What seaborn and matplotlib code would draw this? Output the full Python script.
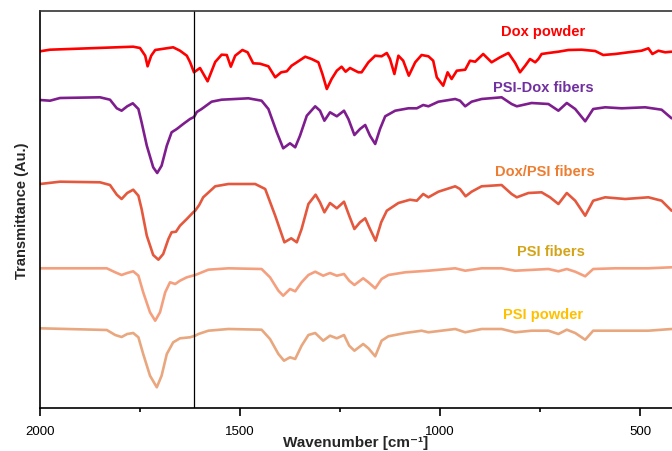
import numpy as np
import pandas as pd
import matplotlib
matplotlib.use("Agg")
import matplotlib.pyplot as plt
import seaborn as sns
from matplotlib.ticker import MultipleLocator

sns.set_theme(style="white")
plt.rcParams['font.family'] = ['Liberation Sans', 'DejaVu Sans']

# ---- data (wavenumber in cm-1, transmittance in arbitrary offset units) ----
dox_powder_wn = [2000, 1975, 1767, 1750, 1737, 1731, 1722, 1712, 1667, 1650, 1633, 1625, 1615, 1600,
                 1581, 1562, 1546, 1533, 1523, 1512, 1494, 1481, 1467, 1450, 1429, 1412, 1397, 1383,
                 1371, 1358, 1337, 1321, 1304, 1294, 1283, 1271, 1258, 1246, 1236, 1225, 1212, 1204,
                 1196, 1179, 1162, 1146, 1133, 1125, 1114, 1104, 1092, 1078, 1062, 1046, 1029, 1017,
                 1008, 992, 981, 971, 958, 937, 925, 912, 892, 871, 850, 829, 812, 800, 787, 775, 762,
                 754, 746, 729, 704, 679, 646, 612, 592, 562, 529, 496, 479, 469, 454, 437, 421]
dox_powder_t = [356.7, 358.3, 361.3, 360, 352.3, 341.7, 352.3, 358, 360.7, 357.3, 352.3, 346, 335.7, 340,
                326.7, 346, 353.3, 353, 341.3, 352.3, 358, 355.7, 344.7, 344.3, 341.7, 330.7, 335.7, 336.7,
                342.3, 345.7, 351.3, 349, 345.7, 334, 319, 329, 337.3, 341.3, 336.3, 340, 337.3, 335.7,
                335.7, 345.7, 352.3, 351.7, 355, 349, 334, 352.3, 347.3, 332.3, 345.7, 353, 351.7, 347.3,
                330.7, 322.3, 335.7, 329, 337.3, 338.3, 347.3, 346.3, 354, 345.7, 350.7, 355, 345, 335.7,
                342.3, 349, 345.7, 349, 354, 355, 356.3, 358, 358.3, 357, 353, 354, 355.7, 357.3, 359.7,
                354, 357.3, 355.7, 356.3]

psi_dox_wn = [2000, 1975, 1950, 1850, 1825, 1808, 1796, 1782, 1768, 1754, 1746, 1733, 1717, 1707, 1696,
              1683, 1671, 1658, 1642, 1625, 1615, 1608, 1596, 1571, 1546, 1479, 1446, 1429, 1408, 1392,
              1375, 1362, 1350, 1333, 1312, 1300, 1289, 1275, 1258, 1240, 1229, 1214, 1200, 1187, 1175,
              1162, 1150, 1137, 1112, 1079, 1058, 1042, 1029, 1004, 962, 950, 937, 921, 896, 846, 821,
              808, 771, 729, 704, 683, 662, 637, 617, 587, 546, 487, 446, 421]
psi_dox_t = [308, 307.3, 310, 310.7, 308.3, 299.7, 297.3, 301.7, 304.7, 299, 285.7, 262.3, 240.7, 235, 242.3,
             262.3, 275.7, 279, 284, 289, 291, 296, 299, 306.3, 308.3, 309.7, 307.3, 299, 275.7, 259.7,
             264.7, 260.7, 272.3, 292.3, 301.7, 297.3, 287.3, 295.7, 291.7, 297.3, 289, 273, 279, 283, 272.3,
             264, 279, 291.7, 297.3, 299.7, 299.7, 303, 301.7, 306.3, 309, 307.3, 301.7, 306.3, 309, 310.7, 304,
             301.7, 305, 304, 297.3, 305, 299, 286.7, 299, 300.7, 299.7, 300.7, 298.3, 289.7]

dox_psi_wn = [2000, 1950, 1850, 1825, 1808, 1796, 1782, 1767, 1754, 1746, 1733, 1717, 1704, 1692, 1679,
              1671, 1660, 1650, 1633, 1617, 1612, 1602, 1592, 1562, 1529, 1462, 1437, 1412, 1389, 1372,
              1358, 1346, 1329, 1311, 1300, 1289, 1275, 1258, 1240, 1227, 1214, 1200, 1187, 1175, 1161,
              1147, 1133, 1104, 1075, 1058, 1042, 1029, 1004, 962, 950, 936, 921, 896, 846, 821, 808,
              779, 746, 725, 704, 683, 662, 637, 617, 587, 537, 479, 446, 421]
dox_psi_t = [224, 226.3, 225.7, 223, 213.3, 209, 215, 218.3, 212.3, 199, 172.3, 153, 148.3, 154, 169,
             175.7, 176.3, 182.3, 189, 195.7, 197.3, 203, 210.7, 221.7, 224, 224, 219, 192.3, 165.7, 169.7,
             165.7, 179, 204, 213.3, 205.7, 195.7, 205, 199.7, 206.3, 192.3, 179, 185.7, 189.7, 179, 167.3,
             185.7, 197.3, 205, 208.3, 207.3, 214, 210.7, 216.3, 221.7, 219, 211.7, 216.3, 221.7, 223, 214,
             210.7, 215, 215.7, 210.7, 204, 215, 207.3, 192.3, 207.3, 210.7, 209, 210.7, 207.3, 197.3]

psi_fibers_wn = [2000, 1833, 1812, 1796, 1782, 1767, 1754, 1742, 1725, 1712, 1700, 1687, 1675, 1662, 1650,
                 1633, 1612, 1579, 1529, 1446, 1425, 1404, 1392, 1375, 1362, 1346, 1329, 1312, 1292, 1275,
                 1258, 1240, 1227, 1214, 1192, 1179, 1162, 1146, 1129, 1087, 1029, 962, 937, 896, 846, 812,
                 729, 704, 683, 662, 637, 617, 562, 479, 421]
psi_fibers_t = [139.7, 139.7, 135.7, 133, 135, 136.7, 132.3, 115.7, 95.7, 87.3, 95.7, 115.7, 125.7, 124, 127.3,
                130.7, 133, 138.3, 139.7, 139, 130.7, 117.3, 112.3, 119, 116.7, 125.7, 133, 136.3, 132.3, 135,
                132.3, 134, 127.3, 123, 129.7, 125.7, 119.7, 129, 133, 135.7, 137.3, 139.7, 137.3, 139.7, 139.7,
                137.3, 139, 136.7, 139, 136.3, 131.7, 139, 139.7, 139.7, 140.7]

psi_powder_wn = [2000, 1833, 1812, 1796, 1782, 1767, 1754, 1742, 1725, 1708, 1696, 1683, 1667, 1650, 1625,
                 1612, 1604, 1579, 1529, 1446, 1425, 1404, 1390, 1375, 1362, 1346, 1329, 1312, 1292, 1275,
                 1258, 1240, 1227, 1214, 1192, 1179, 1162, 1146, 1129, 1087, 1046, 1029, 962, 937, 896, 846,
                 812, 771, 729, 704, 683, 662, 637, 617, 562, 479, 421]
psi_powder_t = [79.7, 78, 73, 71, 74, 75, 70.7, 54, 32.3, 20.7, 32.3, 54, 65.7, 69.7, 70.7,
                72.3, 74, 77.3, 79, 78.3, 69, 54, 47.3, 50.7, 49, 62.3, 73, 75, 67.3, 72.3,
                69.7, 73, 62.3, 57.3, 64, 59.7, 51.7, 67.3, 71.7, 75, 77.3, 75.7, 79, 75.7, 79, 79,
                75.7, 77.3, 77.3, 74, 78.3, 75, 68.3, 77.3, 77.3, 77.3, 79]

series_names = ["Dox powder", "PSI-Dox fibers", "Dox/PSI fibers", "PSI fibers", "PSI powder"]
marker_wavenumber = 1615
x_ticks = [2000, 1500, 1000, 500]

# ---- styles ----
line_colors = ["#FF0000", "#7E1E8E", "#E4583E", "#F4A07E", "#E8A77F"]
label_colors = ["#FF0000", "#7030A0", "#ED7D31", "#D4A418", "#FFC000"]
label_pos = [(742, 377), (742, 321), (737, 237), (722, 157), (742, 94)]

fig = plt.figure(figsize=(6.72, 4.52), dpi=100)
ax = fig.add_axes([40 / 672, 1 - 409 / 452, 1 - 40 / 672, (409 - 12) / 452])

all_wn = [dox_powder_wn, psi_dox_wn, dox_psi_wn, psi_fibers_wn, psi_powder_wn]
all_t = [dox_powder_t, psi_dox_t, dox_psi_t, psi_fibers_t, psi_powder_t]
for name, wn, t, c in zip(series_names, all_wn, all_t, line_colors):
    df = pd.DataFrame({"Wavenumber": wn, "T": t})
    sns.lineplot(data=df, x="Wavenumber", y="T", color=c, linewidth=1.9, ax=ax,
                 sort=False, estimator=None, solid_joinstyle="round", solid_capstyle="round")

for name, (x, y), c in zip(series_names, label_pos, label_colors):
    ax.text(x, y, name, color=c, fontsize=10.5, fontweight="bold", ha="center", va="center")

ax.axvline(marker_wavenumber, color="black", linewidth=0.9)

ax.set_xlim(2000, 420)
ax.set_ylim(0, 397)
ax.set_xticks(x_ticks)
ax.set_xticklabels([str(v) for v in x_ticks], fontsize=9.5)
ax.xaxis.set_minor_locator(MultipleLocator(250))
ax.tick_params(axis="x", which="major", direction="out", length=6, width=1.2, bottom=True,
               colors="black", pad=6)
ax.tick_params(axis="x", which="minor", direction="out", length=3, width=1.2, bottom=True,
               colors="black")
ax.set_yticks([])
ax.set_xlabel("Wavenumber [cm\u207b\u00b9]", fontsize=11, fontweight="bold", va="center")
ax.xaxis.set_label_coords(0.5, -0.086)
ax.set_ylabel("Transmittance (Au.)", fontsize=10.5, fontweight="bold", labelpad=8)

for s in ["left", "bottom"]:
    ax.spines[s].set_color("black")
    ax.spines[s].set_linewidth(1.2)
ax.spines["top"].set_color("#333333")
ax.spines["top"].set_linewidth(1.2)
ax.spines["right"].set_visible(False)
ax.set_facecolor("white")

fig.savefig("out.png", dpi=100, facecolor="white")
